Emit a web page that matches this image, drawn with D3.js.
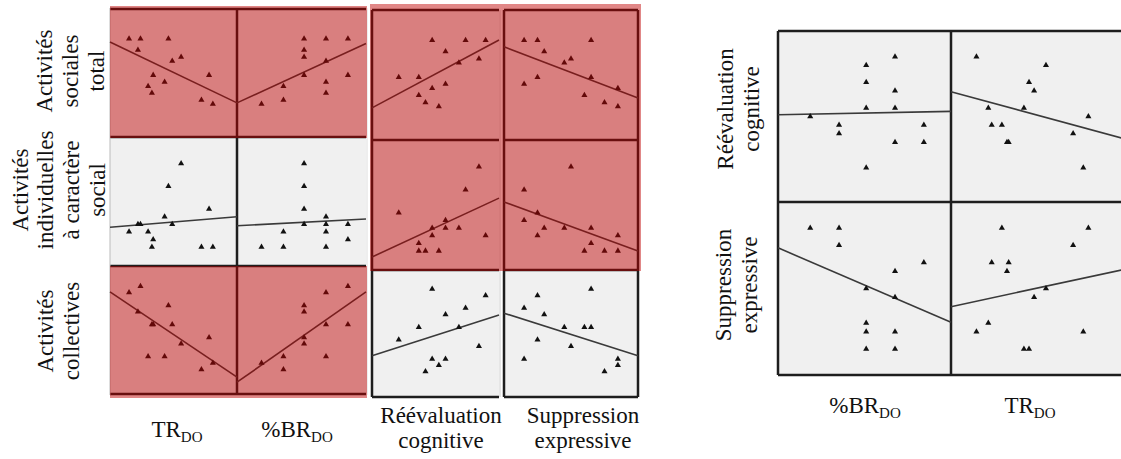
<!DOCTYPE html>
<html>
<head>
<meta charset="utf-8">
<script src="https://cdn.jsdelivr.net/npm/d3@7"></script>
<style>
  body { margin: 0; background: #fff; }
  text { font-family: "Liberation Serif", "Times New Roman", serif; font-size: 23px; fill: #111; }
</style>
</head>
<body>
<script>
// ---- data (x = column variable, y = row variable) ----
// left matrix, row "Activités sociales total"
var socTR = [[1.5,27.6],[2.4,27.6],[2.2,24.5],[4.6,27.6],[4.9,21.4],[5.6,22.5],[3.4,17.4],[4.3,15.5],[3.0,14.3],[3.3,12.4],[7.8,17.4],[7.2,10.4],[8.1,9.3]];
var socBR = [[52,27.6],[69,27.6],[86,27.6],[52,24.5],[52,22.5],[69,21.4],[52,17.4],[86,17.4],[36,14.3],[69,15.5],[69,12.4],[36,10.4],[19,9.3]];
var socRC = [[25,27.6],[30,27.6],[33,27.6],[27,24.5],[29,21.4],[32,22.5],[20,17.4],[23,17.4],[25,14.3],[27,15.5],[23,12.4],[24,10.4],[26,9.3]];
var socSE = [[8,27.6],[10,27.6],[18,27.6],[11,24.5],[14,21.4],[15,22.5],[18,17.4],[10,17.4],[8,15.5],[22,14.3],[17,12.4],[20,10.4],[22,9.3]];
// row "Activités individuelles à caractère social"
var indTR = [[5.6,13],[4.6,10],[7.8,7],[4.3,6],[2.4,5],[2.2,5],[4.9,5],[1.5,4],[3.0,4],[3.4,3],[3.3,2],[7.2,2],[8.1,2]];
var indBR = [[52,13],[52,10],[52,7],[52,5],[69,6],[69,5],[86,5],[36,4],[69,4],[86,3],[19,2],[36,2],[69,2]];
var indRC = [[32,13],[30,10],[20,7],[27,6],[25,5],[27,5],[29,5],[25,4],[33,4],[23,3],[23,2],[24,2],[26,2]];
var indSE = [[15,13],[8,10],[10,7],[8,6],[11,5],[14,5],[18,5],[10,4],[18,3],[22,4],[17,2],[20,2],[22,2]];
// row "Activités collectives"
var colTR = [[1.5,16],[2.4,17],[2.2,13],[4.6,14],[3.3,11],[3.4,11],[4.9,11],[5.6,8],[7.8,9],[3.0,6],[4.3,6],[7.2,4],[8.1,5]];
var colBR = [[86,17],[69,16],[52,14],[52,13],[69,11],[86,11],[52,9],[52,8],[36,6],[69,6],[19,5],[36,4]];
var colRC = [[25,17],[33,16],[30,14],[27,13],[23,11],[29,11],[20,9],[32,8],[25,6],[27,6],[26,5],[24,4]];
var colSE = [[18,17],[10,16],[8,14],[11,13],[14,11],[17,11],[18,11],[10,9],[15,8],[8,6],[22,6],[22,5],[20,4]];
// right matrix
var rcBR = [[69,33],[52,32],[52,30],[69,29],[52,27],[69,27],[19,26],[36,25],[36,24],[86,25],[69,23],[86,23],[52,20]];
var rcTR = [[1.5,33],[5.6,32],[4.6,30],[4.9,29],[2.2,27],[4.3,27],[8.1,26],[2.4,25],[3.0,25],[3.3,23],[3.4,23],[7.2,24],[7.8,20]];
var seBR = [[19,22],[36,22],[36,20],[86,18],[69,17],[52,15],[69,14],[52,11],[52,10],[69,10],[52,8],[69,8]];
var seTR = [[3.0,22],[8.1,22],[7.2,20],[2.4,18],[3.4,18],[3.3,17],[5.6,15],[4.9,14],[2.2,11],[1.5,10],[7.8,10],[4.3,8],[4.6,8]];

// fit lines: [y at start of x domain, y at end of x domain], columns TR, BR, RC, SE
var fitSoc = [[26.7,9.6],[9.6,26.3],[8.9,27.7],[25.8,11.6]];
var fitInd = [[4.6,6.0],[4.8,5.7],[1.2,8.9],[8.4,2.0]];
var fitCol = [[16.1,2.8],[2.0,16.1],[6.5,12.9],[13.2,6.5]];
var fitRight = [[26.2,26.6],[28.9,23.4],[19.7,11.1],[12.9,17.2]]; // rcBR, rcTR, seBR, seTR

var width = 1121, height = 459;

var svg = d3.select("body").append("svg")
  .attr("width", width)
  .attr("height", height);

// ---- scales ----
var xTR = d3.scaleLinear().domain([0, 10]).range([110, 237]);
var xBR = d3.scaleLinear().domain([0, 100]).range([237, 366]);
var xRC = d3.scaleLinear().domain([16, 35]).range([372, 499]);
var xSE = d3.scaleLinear().domain([5, 25]).range([504, 638]);

var ySocA = d3.scaleLinear().domain([0, 36]).range([137, 9]);
var yIndA = d3.scaleLinear().domain([-0.5, 16.5]).range([266, 137]);
var yColA = d3.scaleLinear().domain([0, 20]).range([395, 267]);
var ySocB = d3.scaleLinear().domain([0, 36]).range([140, 10]);
var yIndB = d3.scaleLinear().domain([-0.5, 16.5]).range([270, 140]);
var yColB = d3.scaleLinear().domain([0, 20]).range([397, 270]);

var xBR2 = d3.scaleLinear().domain([0, 102]).range([778, 951]);
var xTR2 = d3.scaleLinear().domain([0, 10.2]).range([951, 1124]);
var yRC2 = d3.scaleLinear().domain([16, 36]).range([202, 31]);
var ySE2 = d3.scaleLinear().domain([5, 25]).range([375, 202]);

var panels = [
  { pts: socTR, fit: fitSoc[0], x: xTR, y: ySocA },
  { pts: socBR, fit: fitSoc[1], x: xBR, y: ySocA },
  { pts: socRC, fit: fitSoc[2], x: xRC, y: ySocB },
  { pts: socSE, fit: fitSoc[3], x: xSE, y: ySocB },
  { pts: indTR, fit: fitInd[0], x: xTR, y: yIndA },
  { pts: indBR, fit: fitInd[1], x: xBR, y: yIndA },
  { pts: indRC, fit: fitInd[2], x: xRC, y: yIndB },
  { pts: indSE, fit: fitInd[3], x: xSE, y: yIndB },
  { pts: colTR, fit: fitCol[0], x: xTR, y: yColA },
  { pts: colBR, fit: fitCol[1], x: xBR, y: yColA },
  { pts: colRC, fit: fitCol[2], x: xRC, y: yColB },
  { pts: colSE, fit: fitCol[3], x: xSE, y: yColB },
  { pts: rcBR, fit: fitRight[0], x: xBR2, y: yRC2 },
  { pts: rcTR, fit: fitRight[1], x: xTR2, y: yRC2 },
  { pts: seBR, fit: fitRight[2], x: xBR2, y: ySE2 },
  { pts: seTR, fit: fitRight[3], x: xTR2, y: ySE2 }
];

// panel backgrounds
svg.selectAll(".bg")
  .data(panels)
  .enter().append("rect")
  .attr("class", "bg")
  .attr("x", function(d) { return d.x.range()[0]; })
  .attr("y", function(d) { return d.y.range()[1]; })
  .attr("width", function(d) { return d.x.range()[1] - d.x.range()[0]; })
  .attr("height", function(d) { return d.y.range()[0] - d.y.range()[1]; })
  .style("fill", "#f0f0f0");

// frame lines
var frame = svg.append("g").style("stroke", "#1e1e1e").style("stroke-width", 2.5);
function hline(x1, x2, y) { frame.append("line").attr("x1", x1).attr("x2", x2).attr("y1", y).attr("y2", y); }
function vline(x, y1, y2) { frame.append("line").attr("x1", x).attr("x2", x).attr("y1", y1).attr("y2", y2); }

[ySocA.range()[1], ySocA.range()[0], yIndA.range()[0], yColA.range()[0] - 1].forEach(function(y) { hline(110, 366, y); });
vline(xTR.range()[1], ySocA.range()[1], yColA.range()[0]);
[ySocB.range()[1], ySocB.range()[0], yIndB.range()[0], yColB.range()[0]].forEach(function(y) {
  hline(372, 499, y);
  hline(504, 638, y);
});
[372, 504, 638].forEach(function(x) { vline(x, ySocB.range()[1], yColB.range()[0]); });
[yRC2.range()[1], yRC2.range()[0], ySE2.range()[0]].forEach(function(y) { hline(778, 1124, y); });
[778, 951].forEach(function(x) { vline(x, yRC2.range()[1], ySE2.range()[0]); });

// light outer edges
svg.append("line").attr("x1", 110).attr("x2", 110).attr("y1", 8).attr("y2", 395).style("stroke", "#bbb");
svg.append("line").attr("x1", 367).attr("x2", 367).attr("y1", 8).attr("y2", 395).style("stroke", "#ddd");
svg.append("line").attr("x1", 500).attr("x2", 500).attr("y1", 10).attr("y2", 397).style("stroke", "#ccc");

// fit lines
svg.selectAll(".fit")
  .data(panels)
  .enter().append("line")
  .attr("class", "fit")
  .attr("x1", function(d) { return d.x.range()[0]; })
  .attr("x2", function(d) { return d.x.range()[1]; })
  .attr("y1", function(d) { return d.y(d.fit[0]); })
  .attr("y2", function(d) { return d.y(d.fit[1]); })
  .style("stroke", "#3a3a3a")
  .style("stroke-width", 1.6);

// points
var tri = d3.symbol().type(d3.symbolTriangle).size(16);
panels.forEach(function(p) {
  svg.append("g").selectAll("path")
    .data(p.pts)
    .enter().append("path")
    .attr("d", tri)
    .attr("transform", function(d) { return "translate(" + p.x(d[0]) + "," + p.y(d[1]) + ")"; })
    .style("fill", "#111");
});

// red highlight overlays (significant cells)
var overlays = [
  [110, 6, 257, 132],
  [110, 266, 257, 132],
  [370, 4, 271, 267]
];
svg.selectAll(".hl")
  .data(overlays)
  .enter().append("rect")
  .attr("class", "hl")
  .attr("x", function(d) { return d[0]; })
  .attr("y", function(d) { return d[1]; })
  .attr("width", function(d) { return d[2]; })
  .attr("height", function(d) { return d[3]; })
  .style("fill", "rgb(192,0,0)")
  .style("opacity", 0.47);

// ---- labels ----
function rowLabel(lines, cy, baselines) {
  var g = svg.append("g").attr("transform", "translate(0," + cy + ") rotate(-90)");
  lines.forEach(function(t, i) {
    g.append("text").attr("x", 0).attr("y", baselines[i]).attr("text-anchor", "middle").text(t);
  });
}
rowLabel(["Activités", "sociales", "total"], 71, [52, 78, 104]);
rowLabel(["Activités", "individuelles", "à caractère", "social"], 190, [28, 53, 79, 105]);
rowLabel(["Activités", "collectives"], 331, [53, 79]);
rowLabel(["Réévaluation", "cognitive"], 109, [733, 759]);
rowLabel(["Suppression", "expressive"], 285, [731, 757]);

function subLabel(main, sub, x, y) {
  var t = svg.append("text").attr("x", x).attr("y", y).attr("text-anchor", "middle");
  t.append("tspan").text(main);
  t.append("tspan").attr("dy", 5).style("font-size", "15px").text(sub);
}
subLabel("TR", "DO", 177, 437);
subLabel("%BR", "DO", 297, 437);
subLabel("%BR", "DO", 865, 413);
subLabel("TR", "DO", 1030, 413);

function colLabel(lines, x, y) {
  lines.forEach(function(t, i) {
    svg.append("text").attr("x", x).attr("y", y + i * 25).attr("text-anchor", "middle").text(t);
  });
}
colLabel(["Réévaluation", "cognitive"], 441, 423);
colLabel(["Suppression", "expressive"], 583, 423);
</script>
</body>
</html>
